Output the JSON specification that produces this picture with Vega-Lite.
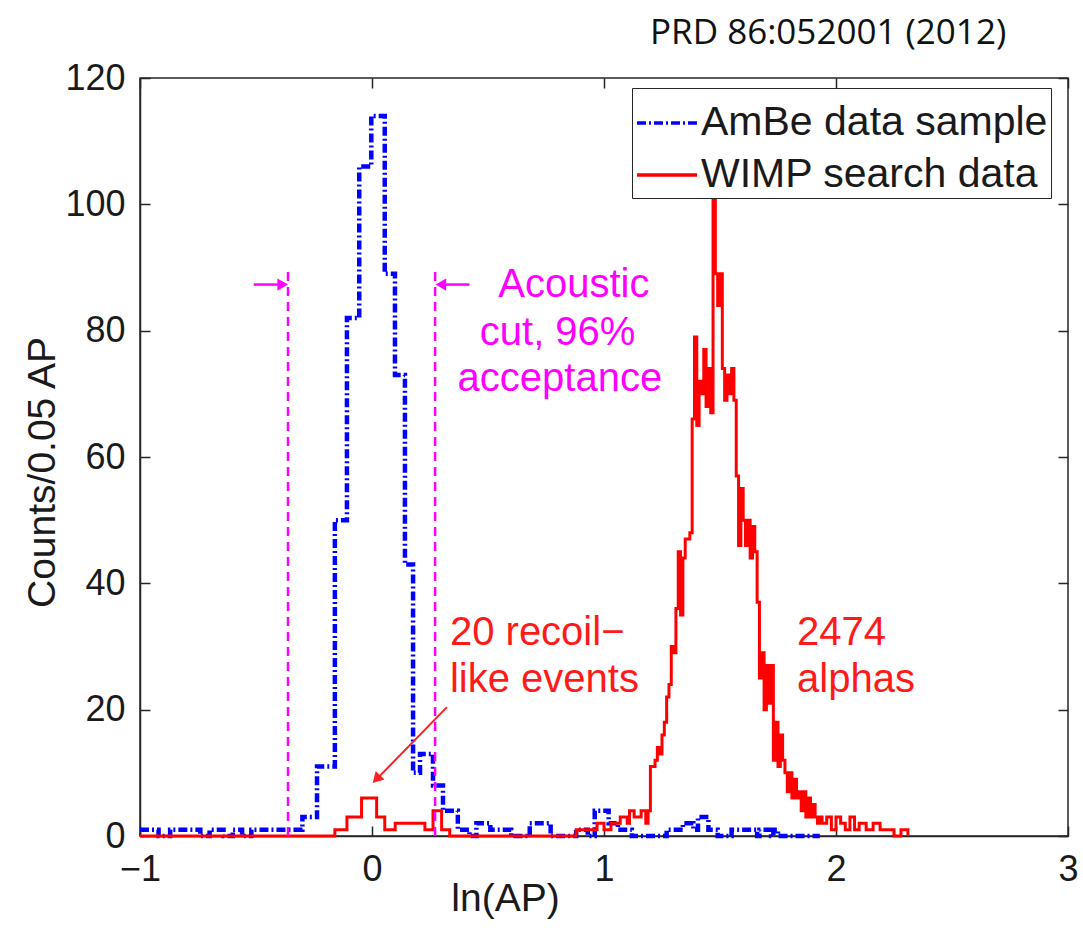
{
  "$schema": "https://vega.github.io/schema/vega-lite/v6.json",
  "width": 928,
  "height": 758,
  "autosize": "none",
  "padding": {"left": 140, "top": 78, "right": 15, "bottom": 94},
  "background": "white",
  "title": {"text": "PRD 86:052001 (2012)", "anchor": "start", "frame": "group", "dx": 510, "dy": 50, "offset": 31, "baseline": "alphabetic", "font": "Open Sans", "fontSize": 35, "fontWeight": "normal", "color": "#111111"},
  "config": {
    "view": {"stroke": "#262626", "strokeWidth": 1.5},
    "axis": {"grid": false, "tickSize": -10, "domainColor": "#262626", "tickColor": "#262626", "domainWidth": 1.5, "tickWidth": 1.5, "labelFont": "Liberation Sans", "labelFontSize": 36, "labelColor": "#1a1a1a", "titleFont": "Liberation Sans", "titleFontSize": 39, "titleFontWeight": "normal", "titleColor": "#1a1a1a", "labelFlush": false, "labelOverlap": false},
    "legend": {"strokeColor": "#262626", "fillColor": "white", "padding": 3, "labelFont": "Liberation Sans", "labelFontSize": 41, "labelColor": "#1a1a1a", "labelLimit": 600, "symbolType": "stroke", "symbolSize": 3600, "symbolStrokeWidth": 3.5, "rowPadding": -6, "labelOffset": 2}
  },
  "datasets": {
    "blue": [
      {"s": "AmBe data sample", "x": -1.0, "y": 1}, {"s": "AmBe data sample", "x": -0.95, "y": 1}, {"s": "AmBe data sample", "x": -0.92, "y": 0},
      {"s": "AmBe data sample", "x": -0.87, "y": 1}, {"s": "AmBe data sample", "x": -0.84, "y": 1}, {"s": "AmBe data sample", "x": -0.81, "y": 1},
      {"s": "AmBe data sample", "x": -0.74, "y": 0}, {"s": "AmBe data sample", "x": -0.7, "y": 1}, {"s": "AmBe data sample", "x": -0.64, "y": 0},
      {"s": "AmBe data sample", "x": -0.6, "y": 1}, {"s": "AmBe data sample", "x": -0.56, "y": 0}, {"s": "AmBe data sample", "x": -0.52, "y": 1},
      {"s": "AmBe data sample", "x": -0.47, "y": 1}, {"s": "AmBe data sample", "x": -0.43, "y": 1}, {"s": "AmBe data sample", "x": -0.4, "y": 1},
      {"s": "AmBe data sample", "x": -0.34, "y": 1}, {"s": "AmBe data sample", "x": -0.3, "y": 3}, {"s": "AmBe data sample", "x": -0.237, "y": 11},
      {"s": "AmBe data sample", "x": -0.16, "y": 50}, {"s": "AmBe data sample", "x": -0.108, "y": 82}, {"s": "AmBe data sample", "x": -0.055, "y": 106},
      {"s": "AmBe data sample", "x": -0.003, "y": 114}, {"s": "AmBe data sample", "x": 0.055, "y": 89}, {"s": "AmBe data sample", "x": 0.099, "y": 73},
      {"s": "AmBe data sample", "x": 0.142, "y": 43}, {"s": "AmBe data sample", "x": 0.177, "y": 10}, {"s": "AmBe data sample", "x": 0.207, "y": 13},
      {"s": "AmBe data sample", "x": 0.263, "y": 8}, {"s": "AmBe data sample", "x": 0.306, "y": 4}, {"s": "AmBe data sample", "x": 0.37, "y": 1},
      {"s": "AmBe data sample", "x": 0.42, "y": 0}, {"s": "AmBe data sample", "x": 0.45, "y": 2}, {"s": "AmBe data sample", "x": 0.51, "y": 1},
      {"s": "AmBe data sample", "x": 0.6, "y": 0}, {"s": "AmBe data sample", "x": 0.68, "y": 2}, {"s": "AmBe data sample", "x": 0.77, "y": 0},
      {"s": "AmBe data sample", "x": 0.88, "y": 1}, {"s": "AmBe data sample", "x": 0.93, "y": 0}, {"s": "AmBe data sample", "x": 0.96, "y": 4},
      {"s": "AmBe data sample", "x": 1.02, "y": 2}, {"s": "AmBe data sample", "x": 1.06, "y": 1}, {"s": "AmBe data sample", "x": 1.12, "y": 0},
      {"s": "AmBe data sample", "x": 1.27, "y": 1}, {"s": "AmBe data sample", "x": 1.34, "y": 2}, {"s": "AmBe data sample", "x": 1.385, "y": 1},
      {"s": "AmBe data sample", "x": 1.405, "y": 3}, {"s": "AmBe data sample", "x": 1.45, "y": 1}, {"s": "AmBe data sample", "x": 1.49, "y": 0},
      {"s": "AmBe data sample", "x": 1.55, "y": 1}, {"s": "AmBe data sample", "x": 1.61, "y": 1}, {"s": "AmBe data sample", "x": 1.66, "y": 0},
      {"s": "AmBe data sample", "x": 1.67, "y": 1}, {"s": "AmBe data sample", "x": 1.72, "y": 0}, {"s": "AmBe data sample", "x": 1.73, "y": 1},
      {"s": "AmBe data sample", "x": 1.75, "y": 0}, {"s": "AmBe data sample", "x": 1.93, "y": 0}
    ],
    "red": [
      {"s": "WIMP search data", "x": -1.0, "y": 0}, {"s": "WIMP search data", "x": -0.16, "y": 1}, {"s": "WIMP search data", "x": -0.108, "y": 3},
      {"s": "WIMP search data", "x": -0.045, "y": 6}, {"s": "WIMP search data", "x": 0.02, "y": 3}, {"s": "WIMP search data", "x": 0.055, "y": 1},
      {"s": "WIMP search data", "x": 0.1, "y": 2}, {"s": "WIMP search data", "x": 0.228, "y": 1}, {"s": "WIMP search data", "x": 0.263, "y": 4},
      {"s": "WIMP search data", "x": 0.3, "y": 1}, {"s": "WIMP search data", "x": 0.335, "y": 0}, {"s": "WIMP search data", "x": 0.88, "y": 1},
      {"s": "WIMP search data", "x": 0.97, "y": 2}, {"s": "WIMP search data", "x": 1.0, "y": 1}, {"s": "WIMP search data", "x": 1.03, "y": 2},
      {"s": "WIMP search data", "x": 1.07, "y": 3}, {"s": "WIMP search data", "x": 1.1, "y": 2}, {"s": "WIMP search data", "x": 1.11, "y": 4},
      {"s": "WIMP search data", "x": 1.13, "y": 3}, {"s": "WIMP search data", "x": 1.16, "y": 4}, {"s": "WIMP search data", "x": 1.18, "y": 2},
      {"s": "WIMP search data", "x": 1.19, "y": 4}, {"s": "WIMP search data", "x": 1.2, "y": 11}, {"s": "WIMP search data", "x": 1.21, "y": 11},
      {"s": "WIMP search data", "x": 1.22, "y": 12}, {"s": "WIMP search data", "x": 1.23, "y": 14}, {"s": "WIMP search data", "x": 1.24, "y": 13},
      {"s": "WIMP search data", "x": 1.25, "y": 16}, {"s": "WIMP search data", "x": 1.26, "y": 18}, {"s": "WIMP search data", "x": 1.27, "y": 22},
      {"s": "WIMP search data", "x": 1.28, "y": 24}, {"s": "WIMP search data", "x": 1.29, "y": 30}, {"s": "WIMP search data", "x": 1.3, "y": 29},
      {"s": "WIMP search data", "x": 1.31, "y": 36}, {"s": "WIMP search data", "x": 1.32, "y": 45}, {"s": "WIMP search data", "x": 1.33, "y": 35},
      {"s": "WIMP search data", "x": 1.34, "y": 44}, {"s": "WIMP search data", "x": 1.35, "y": 47}, {"s": "WIMP search data", "x": 1.36, "y": 47},
      {"s": "WIMP search data", "x": 1.37, "y": 48}, {"s": "WIMP search data", "x": 1.38, "y": 66}, {"s": "WIMP search data", "x": 1.39, "y": 79},
      {"s": "WIMP search data", "x": 1.4, "y": 65}, {"s": "WIMP search data", "x": 1.41, "y": 72}, {"s": "WIMP search data", "x": 1.42, "y": 70},
      {"s": "WIMP search data", "x": 1.43, "y": 77}, {"s": "WIMP search data", "x": 1.44, "y": 68}, {"s": "WIMP search data", "x": 1.45, "y": 74},
      {"s": "WIMP search data", "x": 1.46, "y": 67}, {"s": "WIMP search data", "x": 1.47, "y": 102}, {"s": "WIMP search data", "x": 1.48, "y": 89},
      {"s": "WIMP search data", "x": 1.49, "y": 84}, {"s": "WIMP search data", "x": 1.5, "y": 89}, {"s": "WIMP search data", "x": 1.51, "y": 74},
      {"s": "WIMP search data", "x": 1.52, "y": 69}, {"s": "WIMP search data", "x": 1.53, "y": 73}, {"s": "WIMP search data", "x": 1.54, "y": 70},
      {"s": "WIMP search data", "x": 1.55, "y": 74}, {"s": "WIMP search data", "x": 1.56, "y": 69}, {"s": "WIMP search data", "x": 1.57, "y": 57},
      {"s": "WIMP search data", "x": 1.58, "y": 46}, {"s": "WIMP search data", "x": 1.59, "y": 55}, {"s": "WIMP search data", "x": 1.6, "y": 50},
      {"s": "WIMP search data", "x": 1.61, "y": 46}, {"s": "WIMP search data", "x": 1.62, "y": 50}, {"s": "WIMP search data", "x": 1.63, "y": 44},
      {"s": "WIMP search data", "x": 1.64, "y": 49}, {"s": "WIMP search data", "x": 1.65, "y": 45}, {"s": "WIMP search data", "x": 1.66, "y": 37},
      {"s": "WIMP search data", "x": 1.67, "y": 25}, {"s": "WIMP search data", "x": 1.68, "y": 29}, {"s": "WIMP search data", "x": 1.69, "y": 20},
      {"s": "WIMP search data", "x": 1.7, "y": 27}, {"s": "WIMP search data", "x": 1.71, "y": 21}, {"s": "WIMP search data", "x": 1.72, "y": 27},
      {"s": "WIMP search data", "x": 1.73, "y": 12}, {"s": "WIMP search data", "x": 1.74, "y": 18}, {"s": "WIMP search data", "x": 1.75, "y": 11},
      {"s": "WIMP search data", "x": 1.76, "y": 16}, {"s": "WIMP search data", "x": 1.77, "y": 12}, {"s": "WIMP search data", "x": 1.78, "y": 10},
      {"s": "WIMP search data", "x": 1.79, "y": 7}, {"s": "WIMP search data", "x": 1.8, "y": 10}, {"s": "WIMP search data", "x": 1.81, "y": 6},
      {"s": "WIMP search data", "x": 1.82, "y": 9}, {"s": "WIMP search data", "x": 1.83, "y": 6}, {"s": "WIMP search data", "x": 1.84, "y": 7},
      {"s": "WIMP search data", "x": 1.85, "y": 4}, {"s": "WIMP search data", "x": 1.86, "y": 7}, {"s": "WIMP search data", "x": 1.87, "y": 3},
      {"s": "WIMP search data", "x": 1.88, "y": 6}, {"s": "WIMP search data", "x": 1.89, "y": 3}, {"s": "WIMP search data", "x": 1.9, "y": 5},
      {"s": "WIMP search data", "x": 1.91, "y": 3}, {"s": "WIMP search data", "x": 1.92, "y": 2}, {"s": "WIMP search data", "x": 1.93, "y": 3},
      {"s": "WIMP search data", "x": 1.94, "y": 2}, {"s": "WIMP search data", "x": 1.96, "y": 3}, {"s": "WIMP search data", "x": 1.98, "y": 1},
      {"s": "WIMP search data", "x": 2.0, "y": 3}, {"s": "WIMP search data", "x": 2.02, "y": 2}, {"s": "WIMP search data", "x": 2.04, "y": 1},
      {"s": "WIMP search data", "x": 2.06, "y": 3}, {"s": "WIMP search data", "x": 2.08, "y": 1}, {"s": "WIMP search data", "x": 2.1, "y": 2},
      {"s": "WIMP search data", "x": 2.13, "y": 1}, {"s": "WIMP search data", "x": 2.16, "y": 2}, {"s": "WIMP search data", "x": 2.19, "y": 1},
      {"s": "WIMP search data", "x": 2.22, "y": 1}, {"s": "WIMP search data", "x": 2.25, "y": 0}, {"s": "WIMP search data", "x": 2.28, "y": 1},
      {"s": "WIMP search data", "x": 2.31, "y": 0}
    ],
    "cut": [{"x": -0.362, "y": 0, "y2": 90}, {"x": 0.272, "y": 0, "y2": 90}],
    "harrow": [{"x": -0.51, "x2": -0.39, "y": 87.3}, {"x": 0.42, "x2": 0.3, "y": 87.3}],
    "heads": [{"x": -0.385, "y": 87.3, "sh": "triangle-right"}, {"x": 0.297, "y": 87.3, "sh": "triangle-left"}],
    "rarrow": [{"x": 0.323, "y": 20.4, "x2": 0.02, "y2": 9.0}],
    "rhead": [{"x": 0.019, "y": 9.0}],
    "mtext": [{"x": 0.87, "y": 85.3, "t": "Acoustic"}, {"x": 0.8, "y": 77.8, "t": "cut, 96%"}, {"x": 0.81, "y": 70.4, "t": "acceptance"}],
    "rtext": [{"x": 0.336, "y": 30.3, "t": "20 recoil−"}, {"x": 0.336, "y": 22.8, "t": "like events"}, {"x": 1.832, "y": 30.3, "t": "2474"}, {"x": 1.832, "y": 22.8, "t": "alphas"}]
  },
  "layer": [
    {
      "data": {"name": "blue"},
      "mark": {"type": "line", "interpolate": "step-after", "strokeWidth": 4.5},
      "encoding": {
        "x": {"field": "x", "type": "quantitative", "scale": {"domain": [-1, 3], "nice": false, "zero": false},
              "axis": {"orient": "bottom", "values": [-1, 0, 1, 2, 3], "title": "ln(AP)", "labelPadding": 26, "titleX": 365, "titleY": 74, "titleBaseline": "alphabetic", "titleAlign": "center", "titleAnchor": null}},
        "y": {"field": "y", "type": "quantitative", "scale": {"domain": [0, 120], "nice": false},
              "axis": {"orient": "left", "values": [0, 20, 40, 60, 80, 100, 120], "title": "Counts/0.05 AP", "labelPadding": 25, "titleX": -86, "titleY": 394, "titleBaseline": "alphabetic", "titleAlign": "center", "titleAngle": 270}},
        "color": {"field": "s", "type": "nominal", "scale": {"domain": ["AmBe data sample", "WIMP search data"], "range": ["#0000ff", "#ff0000"]}, "legend": {"orient": "none", "legendX": 492, "legendY": 10, "title": null}},
        "strokeDash": {"field": "s", "type": "nominal", "scale": {"domain": ["AmBe data sample", "WIMP search data"], "range": [[9, 3, 2, 3], [1, 0]]}, "legend": {"orient": "none", "legendX": 492, "legendY": 10, "title": null}}
      }
    },
    {
      "data": {"name": "red"},
      "mark": {"type": "line", "interpolate": "step-after", "strokeWidth": 3},
      "encoding": {
        "x": {"field": "x", "type": "quantitative", "scale": {"domain": [-1, 3], "nice": false, "zero": false}, "axis": null},
        "y": {"field": "y", "type": "quantitative", "scale": {"domain": [0, 120], "nice": false}, "axis": null},
        "color": {"field": "s", "type": "nominal", "scale": {"domain": ["AmBe data sample", "WIMP search data"], "range": ["#0000ff", "#ff0000"]}, "legend": {"orient": "none", "legendX": 492, "legendY": 10, "title": null}},
        "strokeDash": {"field": "s", "type": "nominal", "scale": {"domain": ["AmBe data sample", "WIMP search data"], "range": [[9, 3, 2, 3], [1, 0]]}, "legend": {"orient": "none", "legendX": 492, "legendY": 10, "title": null}}
      }
    },
    {
      "data": {"name": "cut"},
      "mark": {"type": "rule", "color": "#ff00ff", "strokeWidth": 2.5, "strokeDash": [9, 6]},
      "encoding": {
        "x": {"field": "x", "type": "quantitative", "scale": {"domain": [-1, 3], "nice": false, "zero": false},
              "axis": {"orient": "top", "values": [-1, 0, 1, 2, 3], "labels": false, "title": null, "domain": false}},
        "y": {"field": "y", "type": "quantitative", "scale": {"domain": [0, 120], "nice": false},
              "axis": {"orient": "right", "values": [0, 20, 40, 60, 80, 100, 120], "labels": false, "title": null, "domain": false}},
        "y2": {"field": "y2"}
      }
    },
    {
      "data": {"name": "harrow"},
      "mark": {"type": "rule", "color": "#ff00ff", "strokeWidth": 2.5},
      "encoding": {
        "x": {"field": "x", "type": "quantitative", "scale": {"domain": [-1, 3], "nice": false, "zero": false}, "axis": null},
        "x2": {"field": "x2"},
        "y": {"field": "y", "type": "quantitative", "scale": {"domain": [0, 120], "nice": false}, "axis": null}
      }
    },
    {
      "data": {"name": "heads"},
      "mark": {"type": "point", "filled": true, "color": "#ff00ff", "size": 150, "opacity": 1},
      "encoding": {
        "x": {"field": "x", "type": "quantitative", "scale": {"domain": [-1, 3], "nice": false, "zero": false}, "axis": null},
        "y": {"field": "y", "type": "quantitative", "scale": {"domain": [0, 120], "nice": false}, "axis": null},
        "shape": {"field": "sh", "type": "nominal", "scale": null}
      }
    },
    {
      "data": {"name": "rarrow"},
      "mark": {"type": "rule", "color": "#ff2020", "strokeWidth": 2},
      "encoding": {
        "x": {"field": "x", "type": "quantitative", "scale": {"domain": [-1, 3], "nice": false, "zero": false}, "axis": null},
        "x2": {"field": "x2"},
        "y": {"field": "y", "type": "quantitative", "scale": {"domain": [0, 120], "nice": false}, "axis": null},
        "y2": {"field": "y2"}
      }
    },
    {
      "data": {"name": "rhead"},
      "mark": {"type": "point", "filled": true, "color": "#ff2020", "size": 150, "shape": "triangle-up", "angle": 224, "opacity": 1},
      "encoding": {
        "x": {"field": "x", "type": "quantitative", "scale": {"domain": [-1, 3], "nice": false, "zero": false}, "axis": null},
        "y": {"field": "y", "type": "quantitative", "scale": {"domain": [0, 120], "nice": false}, "axis": null}
      }
    },
    {
      "data": {"name": "mtext"},
      "mark": {"type": "text", "align": "center", "baseline": "alphabetic", "font": "Liberation Sans", "fontSize": 40, "color": "#ff00ff"},
      "encoding": {
        "x": {"field": "x", "type": "quantitative", "scale": {"domain": [-1, 3], "nice": false, "zero": false}, "axis": null},
        "y": {"field": "y", "type": "quantitative", "scale": {"domain": [0, 120], "nice": false}, "axis": null},
        "text": {"field": "t"}
      }
    },
    {
      "data": {"name": "rtext"},
      "mark": {"type": "text", "align": "left", "baseline": "alphabetic", "font": "Liberation Sans", "fontSize": 40, "color": "#ff1a1a"},
      "encoding": {
        "x": {"field": "x", "type": "quantitative", "scale": {"domain": [-1, 3], "nice": false, "zero": false}, "axis": null},
        "y": {"field": "y", "type": "quantitative", "scale": {"domain": [0, 120], "nice": false}, "axis": null},
        "text": {"field": "t"}
      }
    }
  ],
  "resolve": {"axis": {"x": "independent", "y": "independent"}}
}
